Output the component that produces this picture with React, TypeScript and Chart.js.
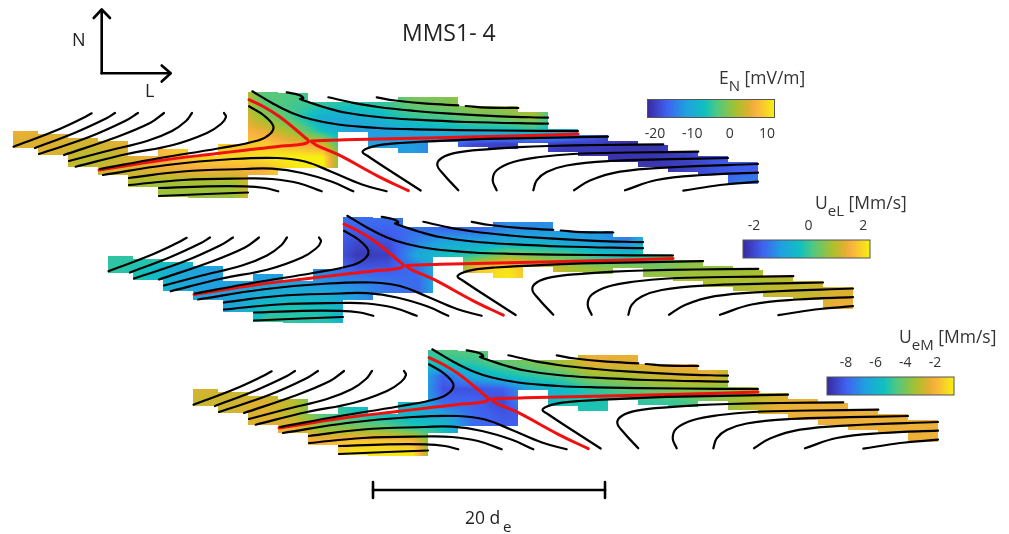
import React, { useEffect, useRef } from "react";
import { Chart, registerables } from "chart.js";

Chart.register(...registerables);

type P = [number, number];

// Column layout of the measured patch (L, N in the frame of the first panel)
const columnEdges = [13.3, 38.3, 68.3, 98.3, 128.3, 158.3, 188.3, 218.3, 248.3, 278.3, 308.3, 338.3, 368.3, 398.3, 428.3, 458.3, 488.3, 518.3, 548.3, 578.3, 608.3, 638.3, 668.3, 698.3, 728.3, 758.3];
const columnTops = [131, 134, 137.5, 141, 156, 149, 156, 144, 92, 93, 102, 102, 102, 97, 97, 106, 106, 112, 129, 135, 141, 145, 151, 156, 162];
const columnBottoms = [148, 155, 167, 175, 187, 197, 198, 198, 175, 168, 168, 132, 148, 153, 142, 147, 149, 143, 152, 156, 162, 167, 172, 175, 184];

const knotX = [25, 53, 83, 113, 143, 173, 203, 233, 263, 293, 323, 353, 383, 413, 443, 473, 503, 533, 563, 593, 623, 653, 683, 713, 743];
const knotY = [92, 105, 118, 131, 144, 157, 170, 183, 196];

const enValues = [
  [6, 5, 6, 5, 6, 8, 10, 8, -3, -3, -5, -6, -5, 0, 0, 1, 1, 3, -8, -15, -21, -21, -20, -18, -17],
  [6, 5, 6, 5, 6, 8, 10, 8, -2.5, -4, -5, -6, -5, -2, -1, 1, 1, 3, -8, -15, -21, -21, -20, -18, -17],
  [6, 5, 6, 5, 6, 8, 10, 8, 1, -4, -10, -10, -8, -5, -4, -2, -1, 1, -8, -15, -21, -21, -20, -18, -17],
  [6, 5, 6, 5, 6, 8, 10, 8, 6, 1, -7, -12, -12, -11, -9, -8, -8, -6, -9, -15, -21, -21, -20, -18, -17],
  [5, 5, 4, 5, 6, 9, 10, 8, 9, 7, 4, -11, -12, -12, -15, -19, -20, -19, -20, -20, -21, -21, -20, -18, -17],
  [5, 5, 3, 3, 6, 8, 10, 10, 11, 12, 12, -11, -12, -12, -15, -19, -20, -19, -21, -21, -21, -21, -20, -18, -17],
  [5, 5, 2.5, 5, 5, 6, 6.5, 6.5, 7, 11, 12, -11, -12, -12, -15, -19, -20, -19, -21, -21, -21, -21, -20, -18, -17],
  [5, 5, 2.5, 3, 1.5, 1.5, 1.5, 1.5, 7, 9, 10, -11, -12, -12, -15, -19, -20, -19, -21, -21, -21, -21, -20, -18, -14],
  [5, 5, 2.5, 3, 1.5, 1, 1, 1, 7, 9, 10, -11, -12, -12, -15, -19, -20, -19, -21, -21, -21, -21, -20, -18, -14],
];

const uelValues = [
  [-0.1, 0, 0.2, -0.2, -0.3, 0, -1, -1.6, -1.5, -1.5, -1.5, -1.6, -1.6, -1.2, -1.3, -1.1, -1.1, -1.6, 0.1, 0.6, 0.6, 0.7, 0.9, 1, 1.1],
  [-0.1, 0, 0.2, -0.2, -0.3, 0, -1, -1.6, -1.7, -1.7, -1.5, -1.6, -1.6, -1.2, -1.2, -1.1, -1.1, -1.6, 0.1, 0.6, 0.6, 0.7, 0.9, 1, 1.1],
  [-0.1, 0, 0.2, -0.2, -0.3, 0, -1, -1.6, -2, -1.9, -1.3, -0.8, -0.8, -0.7, -0.6, -0.9, -1, -1.3, 0.1, 0.6, 0.6, 0.7, 0.9, 1, 1.1],
  [-0.1, 0, 0.2, -0.2, -0.3, 0, -1, -1.6, -2.2, -2.1, -0.8, -0.3, 0, 0.7, 0.4, 0.3, -0.2, -0.3, 0.1, 0.6, 0.6, 0.7, 0.9, 1, 1.1],
  [-0.1, -0.3, -0.8, -1, -1, -1, -1, -1.4, -1.8, -1.8, -1.5, -0.3, 1.8, 2.1, 1.5, 0.9, 0.7, 0.7, 0.5, 0.7, 0.7, 0.8, 0.9, 1, 1.1],
  [-0.1, -0.3, -0.8, -1, -1, -1, -1, -1.2, -1.3, -1.5, -1.6, -0.3, 2, 2.2, 1.5, 0.9, 0.7, 0.7, 0.9, 0.9, 0.9, 0.9, 1, 1.1, 1.2],
  [-0.1, -0.3, -0.8, -1, -0.9, -0.7, -0.7, -0.8, -1.1, -1.5, -1.6, -0.3, 2, 2.2, 1.5, 0.9, 0.7, 0.7, 0.9, 0.9, 1, 1, 1.1, 1.1, 1.3],
  [-0.1, -0.3, -0.8, -1, -0.8, -0.3, -0.2, -0.3, -1.1, -1.5, -1.6, -0.3, 2, 2.2, 1.5, 0.9, 0.7, 0.7, 0.9, 0.9, 1, 1, 1.1, 1.1, 1.5],
  [-0.1, -0.3, -0.8, -1, -0.8, 0, -0.1, -0.2, -1.1, -1.5, -1.6, -0.3, 2, 2.2, 1.5, 0.9, 0.7, 0.7, 0.9, 0.9, 1, 1, 1.1, 1.1, 1.5],
];

const uemValues = [
  [-2.6, -2.7, -3.3, -3.6, -4.5, -5.5, -6, -5.4, -4.5, -4.4, -4.3, -4, -3.3, -2.1, -2.3, -2.2, -2.2, -2.1, -3.6, -3, -2.2, -2.2, -2.2, -2.2, -2.2],
  [-2.6, -2.7, -3.3, -3.6, -4.5, -5.5, -6, -5.4, -5.2, -5, -4.3, -4, -3.3, -2.3, -2.4, -2.2, -2.2, -2.1, -3.6, -3, -2.2, -2.2, -2.2, -2.2, -2.2],
  [-2.6, -2.7, -3.3, -3.6, -4.5, -5.5, -6, -5.4, -8, -6.2, -5.5, -5, -4.6, -3.5, -3.3, -2.8, -2.5, -2.3, -3.6, -3, -2.2, -2.2, -2.2, -2.2, -2.2],
  [-2.6, -2.7, -3.3, -3.6, -4.5, -5.5, -6, -5.4, -8.3, -8.3, -8, -6.3, -5.8, -5, -4.5, -4, -3.7, -3.8, -3.6, -3, -2.2, -2.2, -2.2, -2.2, -2.2],
  [-2.8, -2.7, -2.4, -3, -4.5, -5.5, -6, -5.6, -7.8, -7.9, -8.5, -6.3, -5.2, -5.3, -5.1, -5, -4.8, -3.9, -3.2, -2.5, -2.2, -2.2, -2.2, -2.2, -2.2],
  [-2.8, -2.7, -2.4, -3, -4.5, -5.2, -5.5, -6, -6.5, -7.8, -8.2, -8, -5.2, -5.2, -5.2, -5.2, -5, -3.9, -3.1, -2.2, -2.2, -2.2, -2.2, -2.2, -2.2],
  [-2.8, -2.7, -2.4, -2.2, -3.7, -3.8, -4.2, -5, -5.4, -7.8, -8, -8, -5.2, -5.2, -5.2, -5.2, -5, -3.9, -3.1, -2.2, -2.2, -2.2, -2.2, -2.2, -2.2],
  [-2.8, -2.7, -2.4, -2, -2, -1.6, -1.5, -1.9, -5.4, -7.8, -8, -8, -5.2, -5.2, -5.2, -5.2, -5, -3.9, -3.1, -2.2, -2.2, -2.2, -2.2, -2.2, -2.2],
  [-2.8, -2.7, -2.4, -2, -1.8, -0.9, -0.9, -0.9, -5.4, -7.8, -8, -8, -5.2, -5.2, -5.2, -5.2, -5, -3.9, -3.1, -2.2, -2.2, -2.2, -2.2, -2.2, -2.2],
];

// Field lines (first panel frame)
const blackCurves: P[][] = [
  [[13.5, 146.7], [53.5, 131.5], [83, 118], [91.7, 113.3]],
  [[35, 148], [75, 132.7], [107, 118], [115, 113]],
  [[39, 154], [89, 137], [125, 121], [138, 113]],
  [[64, 155], [114, 138], [150, 123], [164, 113]],
  [[69, 161], [107, 151], [147, 141], [172, 131], [186, 121], [192, 113]],
  [[75.7, 166.7], [127, 154], [173, 145], [207, 133], [221, 124], [226, 117], [224, 113]],
  [[100, 169], [160, 158], [218, 148.5], [258, 140.5], [270, 134], [273.3, 126], [264, 115.5], [249, 106.3]],
  [[103, 175], [167, 165], [233, 159], [278, 158], [305, 161.5], [332, 172], [362, 184.5], [386.7, 191.3]],
  [[129, 178], [183, 171.5], [245, 169], [272, 168.7], [302, 173], [332, 181.8], [353.3, 191.3]],
  [[129, 185], [183, 180], [245, 178.5], [272, 179], [298, 183], [321.7, 191.3]],
  [[159, 188], [207, 186.3], [245, 186.3], [265, 188], [278.3, 191.3]],
  [[159, 196], [207, 194], [248, 192.5]],
  [[252.3, 91.3], [272, 103], [292, 113], [312, 119.5], [338, 124.5], [378, 128], [415, 129.3], [500, 130.5], [578, 131]],
  [[286.7, 92.3], [298.3, 94.7], [303.3, 98], [300, 99], [308.3, 102], [325, 107.5], [345, 112.5], [378, 117], [415, 119.7], [466.7, 122], [548, 123.7]],
  [[328.3, 97.3], [351.7, 102.5], [378, 107], [415, 111], [450, 113.7], [500, 116.3], [548, 117.7]],
  [[376.7, 97.3], [395, 100.5], [426.7, 103.7], [458.3, 105.3]],
  [[465.7, 106], [486.7, 107.7], [518.3, 108]],
  [[420.7, 190.5], [385, 167.5], [367, 155.5], [362.5, 152], [367, 148.5], [378, 145.3], [400, 143], [450, 140.3], [500, 138.7], [608, 136.7]],
  [[458.3, 190.3], [443.3, 174], [437.3, 165], [441.7, 158], [456.7, 152.7], [486.7, 149.3], [518.3, 147.2], [548.3, 146], [600, 145], [663.3, 144.3]],
  [[496.7, 190.3], [492.7, 180.3], [496.7, 170.3], [513.3, 162], [540, 157], [573, 154], [630, 152.5], [698.3, 151.7]],
  [[533.3, 190.3], [536.7, 180.3], [546.7, 172], [566.7, 165.5], [610, 161], [670, 159.2], [728, 158]],
  [[574, 190.3], [590, 180.5], [620, 171.7], [670, 167.3], [758, 164]],
  [[625, 190.3], [656.7, 180], [703, 175], [758, 172.7]],
  [[683.3, 190.7], [720, 185], [758, 181.7]],
];

const redCurves: P[][] = [
  [[99, 170], [160, 160.5], [217, 153.5], [245, 150.3], [278, 146.5], [295, 145], [306.7, 143], [308.3, 140.5], [305, 137.5], [295, 129], [280, 117], [265, 107.5], [249, 99.7]],
  [[311.7, 141], [345, 139.8], [415, 138.3], [500, 136.3], [578, 134]],
  [[311, 141.3], [316.7, 145.3], [338.3, 154.7], [378.3, 176.3], [408.3, 190.7]],
];

const panelOffsets: P[] = [[0, 0], [95, 124.5], [180, 258]];

const colormapStops: [number, string][] = [
  [0, "#38299f"], [0.15, "#4060f0"], [0.3, "#20a0e0"], [0.45, "#10c0c0"],
  [0.55, "#50c880"], [0.7, "#a8c030"], [0.8, "#e0b030"], [0.85, "#f8b040"], [1, "#f8f010"],
];

const fieldRanges: P[] = [[-22, 12], [-2.4, 2.25], [-9.27, -0.73]];
const barTicks = [[-20, -10, 0, 10], [-2, 0, 2], [-8, -6, -4, -2]];
const barLefts = [647.5, 743, 827];
const barTops = [99.5, 240, 377];
const tickLabelY = [134, 226, 363];
const barTitles = [
  { main: "E", sub: "N", unit: " [mV/m]", x: 719, y: 84 },
  { main: "U", sub: "eL", unit: " [Mm/s]", x: 815, y: 209 },
  { main: "U", sub: "eM", unit: " [Mm/s]", x: 899, y: 343 },
];
const axisN: P[] = [[101.7, 73.3], [101.7, 10]];
const headN: P[] = [[93.7, 18], [101.7, 9.5], [110, 18]];
const axisL: P[] = [[101.7, 73.3], [170, 73.3]];
const headL: P[] = [[161.7, 65.5], [170.7, 73.3], [161.7, 81.5]];
const scaleBar: P[] = [[373, 490], [605, 490]];
const scaleCapLeft: P[] = [[373, 482], [373, 498]];
const scaleCapRight: P[] = [[605, 482], [605, 498]];

const FONT = '"Open Sans", sans-serif';

function hexRgb(h: string) {
  return [1, 3, 5].map((i) => parseInt(h.slice(i, i + 2), 16));
}
const stopsRgb = colormapStops.map(([t, c]) => [t, hexRgb(c)] as [number, number[]]);
function colorAt(t: number) {
  const u = Math.max(0, Math.min(1, t));
  for (let i = 1; i < stopsRgb.length; i++) {
    if (u <= stopsRgb[i][0]) {
      const [t0, c0] = stopsRgb[i - 1];
      const [t1, c1] = stopsRgb[i];
      const f = (u - t0) / (t1 - t0);
      return `rgb(${c0.map((c, k) => Math.round(c + (c1[k] - c) * f)).join(",")})`;
    }
  }
  return colormapStops[colormapStops.length - 1][1];
}

function bracket(arr: number[], v: number): [number, number, number] {
  if (v <= arr[0]) return [0, 0, 0];
  const n = arr.length - 1;
  if (v >= arr[n]) return [n, n, 0];
  for (let i = 0; i < n; i++) {
    if (v <= arr[i + 1]) return [i, i + 1, (v - arr[i]) / (arr[i + 1] - arr[i])];
  }
  return [n, n, 0];
}
function sample(grid: number[][], x: number, y: number) {
  const [c0, c1, fx] = bracket(knotX, x);
  const [r0, r1, fy] = bracket(knotY, y);
  const a = grid[r0][c0] + (grid[r0][c1] - grid[r0][c0]) * fx;
  const b = grid[r1][c0] + (grid[r1][c1] - grid[r1][c0]) * fx;
  return a + (b - a) * fy;
}

const fields = [enValues, uelValues, uemValues];

const shadingPlugin = {
  id: "shading",
  beforeDatasetsDraw(chart: any) {
    const ctx = chart.ctx as CanvasRenderingContext2D;
    const sx = chart.scales.x;
    const sy = chart.scales.y;
    ctx.save();
    panelOffsets.forEach(([ox, oy], p) => {
      const [lo, hi] = fieldRanges[p];
      columnTops.forEach((top, c) => {
        const x0 = Math.round(sx.getPixelForValue(columnEdges[c] + ox));
        const x1 = Math.round(sx.getPixelForValue(columnEdges[c + 1] + ox));
        const y0 = Math.round(sy.getPixelForValue(top + oy));
        const y1 = Math.round(sy.getPixelForValue(columnBottoms[c] + oy));
        for (let px = x0; px < x1; px++) {
          for (let py = y0; py < y1; py++) {
            const v = sample(fields[p], sx.getValueForPixel(px + 0.5) - ox, sy.getValueForPixel(py + 0.5) - oy);
            ctx.fillStyle = colorAt((v - lo) / (hi - lo));
            ctx.fillRect(px, py, 1, 1);
          }
        }
      });
    });
    // colour bars
    fieldRanges.forEach(([lo, hi], p) => {
      const left = sx.getPixelForValue(barLefts[p]);
      const right = sx.getPixelForValue(barLefts[p] + 127);
      const top = sy.getPixelForValue(barTops[p]);
      const bottom = sy.getPixelForValue(barTops[p] + 18);
      for (let px = Math.round(left); px < Math.round(right); px++) {
        ctx.fillStyle = colorAt((px + 0.5 - left) / (right - left));
        ctx.fillRect(px, top, 1, bottom - top);
      }
      ctx.strokeStyle = "#555";
      ctx.lineWidth = 1;
      ctx.strokeRect(left, top, right - left, bottom - top);
      ctx.fillStyle = "#333";
      ctx.font = `14px ${FONT}`;
      ctx.textAlign = "center";
      ctx.textBaseline = "middle";
      barTicks[p].forEach((t) => {
        const tx = left + ((t - lo) / (hi - lo)) * (right - left);
        ctx.fillText(String(t), tx, sy.getPixelForValue(tickLabelY[p]));
      });
      const tt = barTitles[p];
      ctx.textAlign = "left";
      ctx.textBaseline = "alphabetic";
      ctx.font = `17.5px ${FONT}`;
      let cx = sx.getPixelForValue(tt.x);
      const by = sy.getPixelForValue(tt.y);
      ctx.fillText(tt.main, cx, by);
      cx += ctx.measureText(tt.main).width;
      ctx.font = `15px ${FONT}`;
      ctx.fillText(tt.sub, cx, by + 7);
      cx += ctx.measureText(tt.sub).width;
      ctx.font = `17.5px ${FONT}`;
      ctx.fillText(tt.unit, cx, by);
    });
    // labels
    ctx.fillStyle = "#222";
    ctx.textAlign = "left";
    ctx.textBaseline = "alphabetic";
    ctx.font = `23px ${FONT}`;
    ctx.fillText("MMS1- 4", sx.getPixelForValue(402), sy.getPixelForValue(41));
    ctx.font = `18px ${FONT}`;
    ctx.fillText("N", sx.getPixelForValue(72), sy.getPixelForValue(46));
    ctx.fillText("L", sx.getPixelForValue(145), sy.getPixelForValue(97));
    ctx.font = `17.5px ${FONT}`;
    ctx.fillText("20 d", sx.getPixelForValue(465), sy.getPixelForValue(524));
    ctx.font = `15px ${FONT}`;
    ctx.fillText("e", sx.getPixelForValue(503), sy.getPixelForValue(532));
    ctx.restore();
  },
};

function lineSet(pts: P[], color: string, width: number, tension: number) {
  return {
    data: pts.map(([x, y]) => ({ x, y })),
    borderColor: color,
    backgroundColor: color,
    borderWidth: width,
    pointRadius: 0,
    showLine: true,
    tension,
    fill: false,
    borderCapStyle: "round" as const,
    borderJoinStyle: "round" as const,
  };
}

export default function App() {
  const ref = useRef<HTMLCanvasElement>(null);
  useEffect(() => {
    document.body.style.margin = "0";
    const datasets: any[] = [];
    panelOffsets.forEach(([ox, oy]) => {
      const shift = (c: P[]) => c.map(([x, y]) => [x + ox, y + oy] as P);
      blackCurves.forEach((c) => datasets.push(lineSet(shift(c), "#000", 2.2, 0.4)));
      redCurves.forEach((c) => datasets.push(lineSet(shift(c), "#f01010", 3, 0.4)));
    });
    [axisN, headN, axisL, headL].forEach((c) => datasets.push(lineSet(c, "#000", 2.6, 0)));
    [scaleBar, scaleCapLeft, scaleCapRight].forEach((c) => datasets.push(lineSet(c, "#000", 2.6, 0)));
    const chart = new Chart(ref.current!, {
      type: "scatter",
      data: { datasets },
      plugins: [shadingPlugin],
      options: {
        animation: false,
        responsive: false,
        layout: { padding: 0 },
        plugins: { legend: { display: false }, tooltip: { enabled: false } },
        scales: {
          x: { type: "linear", min: 0, max: 1009, display: false },
          y: { type: "linear", min: 0, max: 534, reverse: true, display: false },
        },
      },
    } as any);
    return () => chart.destroy();
  }, []);
  return (
    <div style={{ position: "absolute", left: 0, top: 0, width: 1009, height: 534, background: "#fff" }}>
      <canvas ref={ref} width={1009} height={534} style={{ display: "block" }} />
    </div>
  );
}
